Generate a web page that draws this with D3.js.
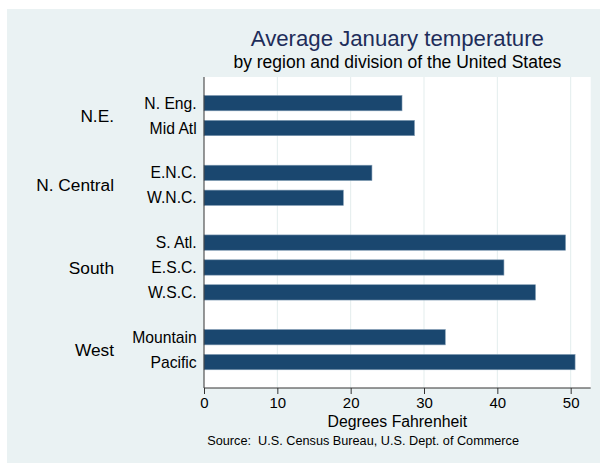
<!DOCTYPE html>
<html>
<head>
<meta charset="utf-8">
<script src="https://cdn.jsdelivr.net/npm/d3@7"></script>
<style>
  html, body { margin: 0; padding: 0; background: #ffffff; }
  svg { display: block; }
  text { font-family: "Liberation Sans", Arial, Helvetica, sans-serif; }
</style>
</head>
<body>
<div id="chart"></div>
<script>
// ---- data ----
const regions = ["N.E.", "N. Central", "South", "West"];
const divisions = ["N. Eng.", "Mid Atl", "E.N.C.", "W.N.C.", "S. Atl.", "E.S.C.", "W.S.C.", "Mountain", "Pacific"];
const divisionRegion = ["N.E.", "N.E.", "N. Central", "N. Central", "South", "South", "South", "West", "West"];
const tempjan = [27.0, 28.7, 22.9, 19.0, 49.3, 40.9, 45.2, 32.9, 50.6];
const xTicks = [0, 10, 20, 30, 40, 50];
const titleText = "Average January temperature";
const subtitleText = "by region and division of the United States";
const xTitleText = "Degrees Fahrenheit";
const noteText = "Source:  U.S. Census Bureau, U.S. Dept. of Commerce";

// ---- layout ----
const W = 600, H = 463;
const plot = { left: 204, right: 590.7, top: 77, bottom: 388 };
const groupGap = 0.8;

const svg = d3.select("#chart").append("svg")
  .attr("width", W).attr("height", H);

// graph region background
svg.append("rect")
  .attr("x", 7).attr("y", 9)
  .attr("width", W - 7).attr("height", H - 9)
  .attr("fill", "#eaf2f3");

// plot region
svg.append("rect")
  .attr("x", plot.left).attr("y", plot.top)
  .attr("width", plot.right - plot.left).attr("height", plot.bottom - plot.top)
  .attr("fill", "#ffffff");

const x = d3.scaleLinear().domain([0, 52.73]).range([plot.left, plot.right]);

const rows = divisions.map((d, i) => ({
  name: d,
  region: divisionRegion[i],
  value: tempjan[i],
  slot: i + regions.indexOf(divisionRegion[i]) * groupGap
}));
const lastSlot = d3.max(rows, r => r.slot);
const y = d3.scaleLinear().domain([-1.05, lastSlot + 1.04]).range([plot.top, plot.bottom]);
const step = y(1) - y(0);
const barH = step * 0.615;

// gridlines
svg.append("g").selectAll("line")
  .data(xTicks.filter(t => t > 0))
  .join("line")
  .attr("x1", d => x(d)).attr("x2", d => x(d))
  .attr("y1", plot.top).attr("y2", plot.bottom)
  .attr("stroke", "#e3eded").attr("stroke-width", 1);

// bars
svg.append("g").selectAll("rect")
  .data(rows)
  .join("rect")
  .attr("x", x(0))
  .attr("y", d => y(d.slot) - barH / 2)
  .attr("width", d => x(d.value) - x(0))
  .attr("height", barH)
  .attr("fill", "#1a476f")
  .attr("stroke", "#7f9ab2")
  .attr("stroke-width", 0.6);

// x axis
const xAxis = d3.axisBottom(x).tickValues(xTicks).tickSize(6).tickPadding(3).tickFormat(d3.format("d"));
const gx = svg.append("g").attr("transform", `translate(0,${plot.bottom})`).call(xAxis);
gx.select(".domain").attr("stroke", "#333").attr("d", `M${plot.left},0H${plot.right}`);
gx.selectAll(".tick line").attr("stroke", "#333");
gx.selectAll(".tick text")
  .attr("fill", "#000")
  .style("font-size", "15px")
  .style("font-family", "'Liberation Sans', Arial, sans-serif");

// y axis line
svg.append("line")
  .attr("x1", plot.left).attr("x2", plot.left)
  .attr("y1", plot.top).attr("y2", plot.bottom)
  .attr("stroke", "#333").attr("stroke-width", 1);

// division labels
svg.append("g").selectAll("text")
  .data(rows)
  .join("text")
  .attr("x", 196.7)
  .attr("y", d => y(d.slot))
  .attr("dy", "0.35em")
  .attr("text-anchor", "end")
  .style("font-size", "15.7px")
  .attr("fill", "#000")
  .text(d => d.name);

// region labels
const regionCenters = regions.map(r => {
  const rs = rows.filter(d => d.region === r);
  return { name: r, slot: (d3.min(rs, d => d.slot) + d3.max(rs, d => d.slot)) / 2 };
});
svg.append("g").selectAll("text")
  .data(regionCenters)
  .join("text")
  .attr("x", 114)
  .attr("y", d => y(d.slot))
  .attr("dy", "0.35em")
  .attr("text-anchor", "end")
  .style("font-size", "17.3px")
  .attr("fill", "#000")
  .text(d => d.name);

const cx = (plot.left + plot.right) / 2;

// titles
svg.append("text")
  .attr("x", cx).attr("y", 46)
  .attr("text-anchor", "middle")
  .style("font-size", "22.2px")
  .attr("fill", "#1e2d5a")
  .text(titleText);

svg.append("text")
  .attr("x", cx).attr("y", 68)
  .attr("text-anchor", "middle")
  .style("font-size", "17.5px")
  .attr("fill", "#000")
  .text(subtitleText);

// x title
svg.append("text")
  .attr("x", cx).attr("y", 426.5)
  .attr("text-anchor", "middle")
  .style("font-size", "15.8px")
  .attr("fill", "#000")
  .text(xTitleText);

// note
svg.append("text")
  .attr("x", 207.3).attr("y", 445)
  .attr("text-anchor", "start")
  .style("font-size", "12.7px")
  .style("white-space", "pre")
  .attr("fill", "#000")
  .text(noteText);
</script>
</body>
</html>
